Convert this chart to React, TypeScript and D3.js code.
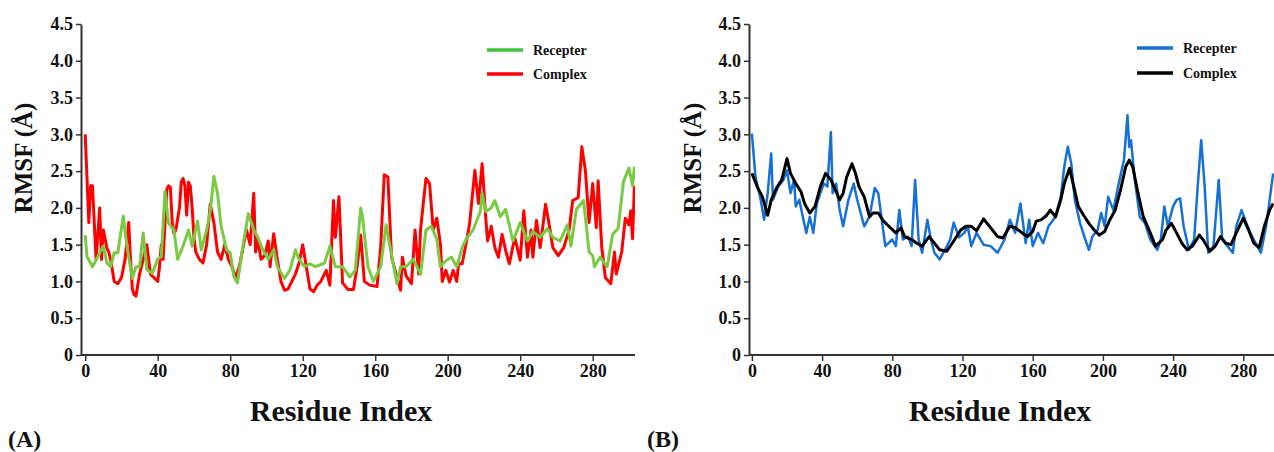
import React, { useEffect, useRef } from 'react';
import * as d3 from 'd3';

// Panel A: receptor (green) and complex (red)
const resA_receptor = [0, 1, 4, 7, 10, 12, 14, 16, 18, 21, 23, 26, 28, 30, 32, 34, 37, 40, 42, 44, 46, 49, 51, 54, 57, 59, 62, 64, 67, 69, 71, 73, 75, 78, 80, 82, 84, 87, 90, 93, 95, 98, 101, 104, 106, 110, 113, 116, 118, 121, 124, 127, 129, 132, 135, 138, 142, 146, 149, 152, 153, 156, 159, 163, 166, 168, 172, 174, 177, 181, 185, 188, 191, 194, 196, 199, 202, 205, 208, 210, 214, 218, 219, 221, 224, 226, 229, 232, 236, 240, 244, 247, 251, 255, 258, 262, 266, 268, 271, 275, 278, 280, 281, 284, 288, 291, 294, 297, 300, 302, 303];
const rmsfA_receptor = [1.63, 1.34, 1.2, 1.34, 1.48, 1.25, 1.2, 1.39, 1.39, 1.89, 1.48, 1.04, 1.2, 1.2, 1.66, 1.16, 1.11, 1.3, 1.34, 2.22, 1.79, 1.7, 1.3, 1.48, 1.7, 1.48, 1.82, 1.43, 1.7, 1.96, 2.43, 2.2, 1.75, 1.43, 1.39, 1.07, 0.98, 1.48, 1.92, 1.7, 1.61, 1.43, 1.3, 1.43, 1.2, 1.04, 1.16, 1.43, 1.3, 1.2, 1.24, 1.2, 1.22, 1.25, 1.48, 1.2, 1.2, 1.06, 1.15, 2.0, 1.88, 1.2, 1.0, 1.2, 1.77, 1.5, 0.97, 1.2, 1.2, 1.3, 1.1, 1.7, 1.75, 1.57, 1.2, 1.28, 1.33, 1.2, 1.46, 1.57, 1.7, 1.95, 2.2, 1.95, 2.0, 2.1, 1.88, 1.98, 1.55, 1.8, 1.55, 1.68, 1.6, 1.72, 1.6, 1.55, 1.77, 1.48, 1.98, 2.1, 1.4, 1.35, 1.2, 1.33, 1.2, 1.64, 1.72, 2.36, 2.54, 2.3, 2.56];

const resA_complex = [0, 2, 3, 4, 6, 8, 9, 10, 12, 13, 14, 16, 18, 20, 22, 24, 25, 26, 27, 28, 30, 32, 34, 36, 38, 40, 41, 42, 43, 45, 46, 47, 48, 49, 50, 52, 53, 54, 55, 56, 57, 58, 59, 60, 61, 63, 65, 67, 69, 71, 73, 75, 77, 79, 81, 83, 85, 87, 89, 91, 93, 94, 95, 97, 99, 101, 102, 104, 106, 108, 110, 112, 114, 116, 118, 120, 122, 124, 126, 128, 130, 133, 135, 137, 138, 140, 142, 145, 148, 150, 152, 154, 157, 161, 163, 165, 167, 169, 172, 174, 175, 177, 180, 182, 184, 185, 188, 190, 192, 194, 196, 197, 199, 201, 203, 205, 206, 208, 210, 212, 215, 217, 219, 221, 222, 224, 226, 228, 230, 232, 234, 237, 240, 242, 244, 246, 247, 249, 251, 254, 256, 258, 261, 264, 267, 269, 272, 274, 276, 278, 280, 282, 283, 285, 287, 290, 292, 293, 296, 298, 300, 301, 302, 303];
const rmsfA_complex = [3.0, 1.8, 2.3, 2.3, 1.3, 2.0, 1.3, 1.7, 1.45, 1.4, 1.3, 1.0, 0.97, 1.05, 1.3, 1.8, 1.3, 0.9, 0.82, 0.8, 1.1, 1.3, 1.5, 1.1, 1.05, 1.0, 1.2, 1.5, 1.3, 2.25, 2.3, 2.28, 1.8, 1.65, 1.7, 2.0, 2.35, 2.4, 2.3, 1.9, 2.35, 2.3, 2.0, 1.6, 1.4, 1.3, 1.25, 1.5, 2.05, 1.8, 1.4, 1.3, 1.5, 1.3, 1.2, 1.05, 1.2, 1.45, 1.7, 1.5, 2.2, 1.4, 1.6, 1.3, 1.35, 1.55, 1.2, 1.65, 1.3, 1.0, 0.88, 0.9, 1.0, 1.1, 1.25, 1.5, 1.2, 0.9, 0.86, 0.95, 1.0, 1.15, 0.95, 2.1, 1.6, 2.15, 0.98, 0.89, 0.89, 1.2, 1.63, 1.0, 0.95, 0.93, 1.46, 2.45, 2.42, 1.33, 1.06, 0.88, 1.33, 1.08, 0.97, 1.7, 1.1, 1.7, 2.4, 2.33, 1.7, 1.86, 1.5, 1.0, 1.15, 0.99, 1.15, 1.0, 1.24, 1.24, 1.5, 1.77, 2.51, 2.06, 2.6, 1.86, 1.55, 1.75, 1.46, 1.33, 1.64, 1.42, 1.24, 1.6, 1.29, 1.96, 1.33, 1.7, 1.33, 1.83, 1.46, 2.05, 1.77, 1.46, 1.35, 1.46, 1.7, 2.1, 2.14, 2.83, 2.5, 1.8, 2.33, 1.73, 2.37, 1.46, 1.05, 0.97, 1.4, 1.1, 1.4, 1.86, 1.77, 1.96, 1.58, 2.3];

// Panel B: receptor (blue) and complex (black)
const resB_receptor = [0, 2, 5, 7, 9, 11, 12, 15, 18, 20, 22, 24, 25, 27, 29, 31, 33, 35, 37, 39, 41, 43, 45, 46, 48, 50, 52, 55, 58, 60, 62, 64, 67, 70, 72, 74, 76, 80, 82, 84, 86, 89, 91, 93, 95, 97, 100, 102, 104, 107, 110, 113, 115, 118, 121, 123, 125, 128, 132, 136, 140, 144, 147, 150, 153, 156, 158, 160, 163, 166, 169, 173, 176, 178, 180, 182, 184, 187, 190, 192, 194, 197, 199, 201, 203, 206, 209, 212, 214, 215, 216, 218, 221, 224, 227, 231, 233, 235, 237, 240, 242, 244, 246, 249, 252, 254, 256, 258, 260, 263, 266, 268, 271, 274, 276, 279, 281, 284, 287, 290, 293, 295, 297];
const rmsfB_receptor = [3.01, 2.43, 2.11, 1.84, 2.2, 2.74, 2.11, 2.29, 2.38, 2.51, 2.2, 2.38, 2.02, 2.11, 1.88, 1.66, 1.88, 1.66, 2.06, 2.2, 2.33, 2.29, 3.03, 2.2, 2.33, 1.97, 1.75, 2.11, 2.33, 2.11, 1.93, 1.75, 1.88, 2.27, 2.2, 1.84, 1.48, 1.57, 1.48, 1.97, 1.57, 1.61, 1.48, 2.38, 1.57, 1.39, 1.84, 1.57, 1.39, 1.3, 1.43, 1.57, 1.8, 1.6, 1.66, 1.75, 1.48, 1.66, 1.5, 1.48, 1.39, 1.57, 1.84, 1.66, 2.06, 1.52, 1.84, 1.48, 1.66, 1.52, 1.75, 1.88, 2.15, 2.56, 2.83, 2.6, 2.11, 1.79, 1.57, 1.43, 1.61, 1.7, 1.93, 1.75, 2.15, 1.97, 2.33, 2.65, 3.26, 2.83, 2.92, 2.42, 1.88, 1.79, 1.57, 1.43, 1.57, 2.02, 1.75, 2.02, 2.11, 2.13, 1.75, 1.43, 1.57, 2.29, 2.92, 2.29, 1.39, 1.48, 2.38, 1.57, 1.48, 1.39, 1.75, 1.97, 1.84, 1.66, 1.52, 1.39, 1.75, 2.11, 2.47];

const resB_complex = [0, 3, 6, 9, 11, 14, 17, 20, 22, 25, 28, 30, 33, 36, 39, 42, 45, 48, 50, 52, 54, 57, 59, 61, 64, 67, 69, 72, 75, 78, 82, 85, 87, 91, 94, 97, 101, 104, 107, 111, 115, 119, 122, 125, 128, 132, 136, 140, 143, 147, 150, 154, 157, 160, 162, 165, 168, 170, 173, 176, 178, 181, 183, 186, 189, 192, 195, 198, 201, 204, 207, 210, 213, 215, 217, 220, 223, 227, 230, 234, 236, 239, 242, 245, 248, 251, 255, 257, 261, 264, 267, 270, 273, 276, 280, 283, 286, 289, 292, 295, 297];
const rmsfB_complex = [2.47, 2.29, 2.15, 1.9, 2.11, 2.27, 2.38, 2.67, 2.47, 2.33, 2.22, 2.06, 1.93, 2.02, 2.29, 2.47, 2.38, 2.22, 2.11, 2.2, 2.42, 2.6, 2.47, 2.29, 2.15, 1.88, 1.93, 1.93, 1.82, 1.75, 1.66, 1.73, 1.61, 1.57, 1.52, 1.48, 1.61, 1.52, 1.43, 1.41, 1.55, 1.7, 1.75, 1.75, 1.69, 1.85, 1.73, 1.61, 1.59, 1.75, 1.73, 1.66, 1.61, 1.68, 1.82, 1.84, 1.9, 1.97, 1.88, 2.11, 2.33, 2.54, 2.33, 2.02, 1.9, 1.79, 1.7, 1.63, 1.68, 1.84, 1.97, 2.24, 2.56, 2.65, 2.56, 2.2, 1.88, 1.66, 1.48, 1.57, 1.7, 1.79, 1.66, 1.52, 1.43, 1.48, 1.63, 1.57, 1.41, 1.48, 1.61, 1.52, 1.5, 1.66, 1.86, 1.7, 1.52, 1.46, 1.75, 1.97, 2.06];

const xTicks = [0, 40, 80, 120, 160, 200, 240, 280];
const yTicks = [0, 0.5, 1.0, 1.5, 2.0, 2.5, 3.0, 3.5, 4.0, 4.5];
const legendLabels = ['Recepter', 'Complex'];

const FONT = '"Liberation Serif", "Times New Roman", serif';

const Panel = ({ id, left, right, x0, x280, yAxisX, series, drawOrder, legendX, legendY, labelX, titleX, tag, tagX }) => {
  const ref = useRef(null);

  useEffect(() => {
    const g = d3.select(ref.current);
    g.selectAll('*').remove();

    const base = d3.scaleLinear().domain([0, 280]).range([x0, x280]);
    const x = d3.scaleLinear().domain([base.invert(left), base.invert(right)]).range([left, right]);
    const y = d3.scaleLinear().domain([0, 4.5]).range([355, 24]);

    // clip so lines stop at axes
    g.append('clipPath')
      .attr('id', `clip-${id}`)
      .append('rect')
      .attr('x', yAxisX)
      .attr('y', 0)
      .attr('width', right - yAxisX)
      .attr('height', 355);

    const line = d3
      .line()
      .x((d) => x(d[0]))
      .y((d) => y(d[1]));

    drawOrder.forEach((k) => {
      const s = series[k];
      const pts = s.res.map((r, i) => [r, s.val[i]]);
      g.append('path')
        .datum(pts)
        .attr('clip-path', `url(#clip-${id})`)
        .attr('fill', 'none')
        .attr('stroke', s.color)
        .attr('stroke-width', s.width)
        .attr('stroke-linejoin', 'round')
        .attr('d', line);
    });

    // axes
    const xAxis = g
      .append('g')
      .attr('transform', 'translate(0,355)')
      .call(d3.axisBottom(x).tickValues(xTicks).tickSize(6).tickSizeOuter(0).tickPadding(3).tickFormat(d3.format('d')));

    const yAxis = g
      .append('g')
      .attr('transform', `translate(${yAxisX},0)`)
      .call(
        d3
          .axisLeft(y)
          .tickValues(yTicks)
          .tickSize(5)
          .tickSizeOuter(0)
          .tickPadding(3)
          .tickFormat((d) => (d === 0 ? '0' : d.toFixed(1)))
      );

    [xAxis, yAxis].forEach((ax) => {
      ax.select('.domain').attr('stroke', '#333').attr('stroke-width', 2);
      ax.selectAll('.tick line').attr('stroke', '#333').attr('stroke-width', 1.5);
      ax.selectAll('text')
        .attr('fill', '#111')
        .style('font-family', FONT)
        .style('font-weight', 'bold')
        .style('font-size', '18px');
    });
    xAxis.select('.domain').attr('d', `M${yAxisX},0H${right}`);

    // legend
    series.forEach((s, i) => {
      const ly = legendY[i];
      g.append('line')
        .attr('x1', legendX)
        .attr('x2', legendX + 36)
        .attr('y1', ly)
        .attr('y2', ly)
        .attr('stroke', s.legendColor || s.color)
        .attr('stroke-width', 3.5);
      g.append('text')
        .attr('x', legendX + 46)
        .attr('y', ly + 4.5)
        .style('font-family', FONT)
        .style('font-weight', 'bold')
        .style('font-size', '14px')
        .attr('fill', '#111')
        .text(legendLabels[i]);
    });

    // axis titles
    g.append('text')
      .attr('transform', `translate(${labelX},158) rotate(-90)`)
      .attr('text-anchor', 'middle')
      .style('font-family', FONT)
      .style('font-weight', 'bold')
      .style('font-size', '25px')
      .attr('fill', '#111')
      .text('RMSF (Å)');

    g.append('text')
      .attr('x', titleX)
      .attr('y', 421)
      .attr('text-anchor', 'middle')
      .style('font-family', FONT)
      .style('font-weight', 'bold')
      .style('font-size', '30px')
      .attr('fill', '#111')
      .text('Residue Index');

    g.append('text')
      .attr('x', tagX)
      .attr('y', 447)
      .style('font-family', FONT)
      .style('font-weight', 'bold')
      .style('font-size', '24px')
      .attr('fill', '#111')
      .text(tag);
  }, []);

  return <g ref={ref}></g>;
};

const App = () => {
  const seriesA = [
    { res: resA_receptor, val: rmsfA_receptor, color: '#7ac943', legendColor: '#3cc43c', width: 3 },
    { res: resA_complex, val: rmsfA_complex, color: '#ff0000', width: 3 },
  ];
  const seriesB = [
    { res: resB_receptor, val: rmsfB_receptor, color: '#1670d6', width: 2.5 },
    { res: resB_complex, val: rmsfB_complex, color: '#000000', width: 3 },
  ];

  return (
    <svg
      width={1274}
      height={452}
      style={{ position: 'absolute', left: 0, top: 0, background: '#fff' }}
    >
      <Panel
        id="a"
        left={81}
        right={635}
        x0={85.2}
        x280={592.7}
        yAxisX={81}
        series={seriesA}
        drawOrder={[1, 0]}
        legendX={487}
        legendY={[50, 74]}
        labelX={32}
        titleX={341}
        tag="(A)"
        tagX={8}
      />
      <Panel
        id="b"
        left={749}
        right={1274}
        x0={751.9}
        x280={1243.3}
        yAxisX={749}
        series={seriesB}
        drawOrder={[0, 1]}
        legendX={1137}
        legendY={[48, 73]}
        labelX={701}
        titleX={1000}
        tag="(B)"
        tagX={647}
      />
    </svg>
  );
};

export default App;
